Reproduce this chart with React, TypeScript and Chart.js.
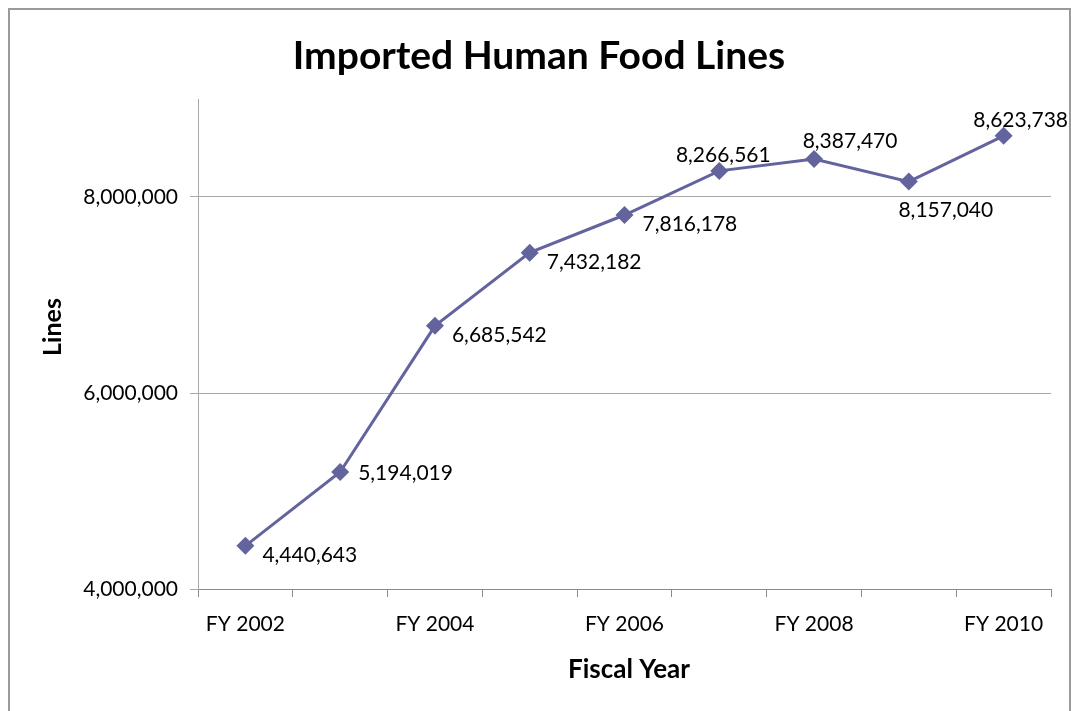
import { useEffect, useRef } from 'react';
import { Chart, registerables } from 'chart.js';

Chart.register(...registerables);

const categories = ['FY 2002', 'FY 2003', 'FY 2004', 'FY 2005', 'FY 2006', 'FY 2007', 'FY 2008', 'FY 2009', 'FY 2010'];
const lineValues = [4440643, 5194019, 6685542, 7432182, 7816178, 8266561, 8387470, 8157040, 8623738];
const yTicks = [4000000, 6000000, 8000000];
const yMin = 4000000;
const yMax = 9000000;

// label placement style (alignment and pixel offsets from the point)
const labelStyle = [
  { align: 'left', dx: 17, dy: 8 },
  { align: 'left', dx: 18, dy: 0 },
  { align: 'left', dx: 17, dy: 8 },
  { align: 'left', dx: 17, dy: 9 },
  { align: 'left', dx: 18, dy: 8 },
  { align: 'center', dx: 4, dy: -17 },
  { align: 'center', dx: 36, dy: -19 },
  { align: 'center', dx: 37, dy: 28 },
  { align: 'center', dx: 17, dy: -17 },
];

const FONT = 'Lato, "Open Sans", "DejaVu Sans", sans-serif';
const LINE_COLOR = '#63639E';
const fmt = (v: number) => v.toLocaleString('en-US');

export default function App() {
  const ref = useRef<HTMLCanvasElement | null>(null);

  useEffect(() => {
    document.body.style.margin = '0';
    document.documentElement.style.overflow = 'hidden';
    const canvas = ref.current;
    if (!canvas) return;

    const decorations = {
      id: 'decorations',
      afterDraw(chart: any) {
        const ctx = chart.ctx;
        const W = chart.width;
        ctx.save();
        // outer border
        ctx.strokeStyle = '#9a9a9a';
        ctx.lineWidth = 2;
        ctx.beginPath();
        ctx.moveTo(9, chart.height + 5);
        ctx.lineTo(9, 9);
        ctx.lineTo(W - 1, 9);
        ctx.lineTo(W - 1, chart.height + 5);
        ctx.stroke();
        // title
        ctx.fillStyle = '#000';
        ctx.textAlign = 'center';
        ctx.textBaseline = 'middle';
        ctx.font = `bold 39px ${FONT}`;
        ctx.fillText('Imported Human Food Lines', 539, 56);
        // axis titles
        ctx.font = `bold 26px ${FONT}`;
        ctx.fillText('Fiscal Year', 629, 670);
        ctx.font = `bold 25px ${FONT}`;
        ctx.translate(53, 327);
        ctx.rotate(-Math.PI / 2);
        ctx.fillText('Lines', 0, 0);
        ctx.restore();
      },
      afterDatasetsDraw(chart: any) {
        const ctx = chart.ctx;
        const meta = chart.getDatasetMeta(0);
        ctx.save();
        ctx.fillStyle = '#000';
        ctx.font = `21px ${FONT}`;
        ctx.textBaseline = 'middle';
        meta.data.forEach((pt: any, i: number) => {
          const s = labelStyle[i];
          ctx.textAlign = s.align;
          ctx.fillText(fmt(lineValues[i]), pt.x + s.dx, pt.y + s.dy + 1);
        });
        ctx.restore();
      },
    };

    const chart = new Chart(canvas, {
      type: 'line',
      data: {
        labels: categories,
        datasets: [
          {
            data: lineValues,
            borderColor: LINE_COLOR,
            backgroundColor: LINE_COLOR,
            borderWidth: 3,
            pointStyle: 'rectRot',
            pointRadius: 9,
            pointBackgroundColor: LINE_COLOR,
            pointBorderWidth: 0,
            tension: 0,
          },
        ],
      },
      options: {
        animation: false,
        responsive: false,
        devicePixelRatio: 1,
        layout: { padding: { left: 8, right: 20, top: 99, bottom: 0 } },
        plugins: {
          legend: { display: false },
          title: { display: false },
          tooltip: { enabled: false },
        },
        scales: {
          x: {
            type: 'category',
            offset: true,
            afterFit: (s: any) => { s.height = 122; },
            grid: {
              offset: true,
              drawOnChartArea: false,
              drawTicks: true,
              tickLength: 8,
              color: '#8c8c8c',
            },
            border: { display: true, color: '#8c8c8c', width: 1 },
            ticks: {
              autoSkip: false,
              maxRotation: 0,
              padding: 15,
              color: '#000',
              font: { family: FONT, size: 21 },
              callback: (_v: any, i: number) => (i % 2 === 0 ? categories[i] : ''),
            },
          },
          y: {
            type: 'linear',
            min: yMin,
            max: yMax,
            afterFit: (s: any) => { s.width = 190; },
            afterBuildTicks: (s: any) => { s.ticks = yTicks.map((v) => ({ value: v })); },
            grid: {
              color: '#a8a8a8',
              tickLength: 8,
              lineWidth: 1,
            },
            border: { display: true, color: '#a8a8a8', width: 1 },
            ticks: {
              padding: 12,
              color: '#000',
              font: { family: FONT, size: 21 },
              callback: (v: any) => fmt(Number(v)),
            },
          },
        },
      },
      plugins: [decorations],
    } as any);

    return () => chart.destroy();
  }, []);

  return (
    <div style={{ width: 1071, height: 711 }}>
      <canvas ref={ref} width={1071} height={711} style={{ display: 'block' }} />
    </div>
  );
}
